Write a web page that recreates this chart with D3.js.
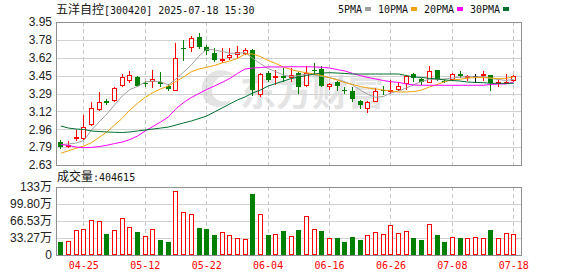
<!DOCTYPE html>
<html>
<head>
<meta charset="utf-8">
<script src="https://cdn.jsdelivr.net/npm/d3@7"></script>
<style>
  body { margin: 0; background: #fff; }
</style>
</head>
<body>
<div id="chart"></div>
<script>
// trading days shown
const dates = ["04-22","04-23","04-24","04-25","04-28","04-29","04-30","05-06","05-07","05-08",
  "05-09","05-12","05-13","05-14","05-15","05-16","05-19","05-20","05-21","05-22",
  "05-23","05-26","05-27","05-28","05-29","05-30","06-03","06-04","06-05","06-06",
  "06-09","06-10","06-11","06-12","06-13","06-16","06-17","06-18","06-19","06-20",
  "06-23","06-24","06-25","06-26","06-27","06-30","07-01","07-02","07-03","07-04",
  "07-07","07-08","07-09","07-10","07-11","07-14","07-15","07-16","07-17","07-18"];

const opens = [2.84,2.80,2.867,2.87,3.00,3.14,3.22,3.22,3.36,3.41,
  3.44,3.39,3.40,3.40,3.36,3.31,3.71,3.71,3.81,3.72,
  3.66,3.59,3.615,3.648,3.652,3.69,3.28,3.48,3.43,3.45,
  3.43,3.48,3.36,3.505,3.52,3.35,3.40,3.325,3.316,3.22,
  3.15,3.21,3.325,3.31,3.32,3.375,3.47,3.42,3.39,3.505,
  3.41,3.415,3.47,3.44,3.455,3.455,3.46,3.39,3.39,3.41];
const highs = [2.86,2.85,2.95,3.09,3.21,3.30,3.24,3.35,3.47,3.50,
  3.45,3.41,3.51,3.49,3.375,3.76,3.78,3.82,3.85,3.74,
  3.71,3.71,3.71,3.73,3.71,3.70,3.48,3.50,3.51,3.53,
  3.53,3.49,3.54,3.57,3.54,3.385,3.405,3.35,3.35,3.23,
  3.22,3.34,3.36,3.415,3.40,3.46,3.48,3.43,3.545,3.505,
  3.42,3.475,3.50,3.465,3.47,3.50,3.46,3.42,3.47,3.46];
const lows = [2.78,2.79,2.85,2.86,2.99,3.13,3.18,3.21,3.35,3.39,
  3.35,3.35,3.34,3.35,3.31,3.31,3.59,3.67,3.70,3.645,
  3.58,3.57,3.60,3.62,3.645,3.27,3.26,3.40,3.37,3.40,
  3.40,3.29,3.35,3.46,3.35,3.32,3.31,3.29,3.21,3.15,
  3.11,3.21,3.28,3.29,3.31,3.32,3.40,3.37,3.385,3.41,
  3.385,3.41,3.43,3.405,3.385,3.405,3.315,3.35,3.375,3.40];
const closes = [2.80,2.81,2.886,2.98,3.16,3.21,3.20,3.34,3.44,3.46,
  3.36,3.38,3.42,3.38,3.33,3.62,3.70,3.80,3.72,3.68,
  3.60,3.61,3.65,3.67,3.69,3.32,3.47,3.415,3.45,3.43,
  3.46,3.35,3.48,3.50,3.36,3.38,3.36,3.32,3.24,3.18,
  3.21,3.31,3.32,3.325,3.36,3.45,3.43,3.40,3.50,3.42,
  3.405,3.47,3.455,3.455,3.455,3.47,3.385,3.40,3.40,3.45];

// volume, in 万 shares
const volumes = [25.9,27.3,48.7,50.6,68.2,66.2,40.9,48.7,72.1,54.5,
  44.8,37.0,50.6,29.2,25.3,124.7,83.2,79.9,53.2,50.6,
  39.0,44.8,39.0,33.1,31.2,119.4,79.9,39.0,40.9,46.8,
  37.0,48.7,76.0,50.6,46.8,33.1,33.1,25.3,35.1,29.2,
  39.0,44.8,40.9,58.4,42.9,46.8,33.1,29.2,60.4,39.0,
  25.3,35.1,33.1,33.1,35.1,33.1,48.7,33.1,42.9,40.4615];

// moving averages as shown
const ma5 = [2.819,2.824,2.833,2.856,2.953,3.027,3.101,3.184,3.267,3.327,
  3.355,3.396,3.405,3.399,3.368,3.424,3.488,3.553,3.636,3.698,
  3.692,3.678,3.661,3.661,3.667,3.615,3.565,3.521,3.491,3.461,
  3.447,3.456,3.47,3.461,3.447,3.436,3.419,3.399,3.368,3.322,
  3.281,3.255,3.262,3.295,3.313,3.341,3.373,3.401,3.421,3.421,
  3.424,3.433,3.442,3.442,3.445,3.445,3.43,3.419,3.41,3.421];
const ma10 = [2.738,2.762,2.784,2.805,2.836,2.886,2.935,2.999,3.061,3.138,
  3.2,3.255,3.298,3.332,3.359,3.401,3.442,3.491,3.516,3.532,
  3.548,3.572,3.59,3.613,3.655,3.655,3.630,3.595,3.567,3.535,
  3.511,3.493,3.482,3.47,3.456,3.436,3.415,3.39,3.373,3.355,
  3.341,3.332,3.322,3.313,3.304,3.304,3.308,3.322,3.35,3.373,
  3.399,3.415,3.421,3.433,3.436,3.438,3.433,3.427,3.43,3.445];
const ma20 = [2.819,2.81,2.796,2.79,2.792,2.80,2.812,2.828,2.842,2.865,
  2.898,2.944,2.985,3.027,3.073,3.149,3.207,3.253,3.29,3.327,
  3.359,3.392,3.428,3.475,3.516,3.525,3.53,3.535,3.535,3.535,
  3.537,3.537,3.537,3.535,3.532,3.525,3.511,3.498,3.475,3.456,
  3.438,3.424,3.41,3.399,3.392,3.378,3.368,3.366,3.366,3.366,
  3.366,3.366,3.366,3.366,3.366,3.366,3.373,3.378,3.378,3.396];
const ma30 = [2.99,2.971,2.962,2.958,2.944,2.939,2.935,2.932,2.93,2.935,
  2.944,2.953,2.962,2.971,2.98,2.999,3.018,3.036,3.059,3.082,
  3.119,3.156,3.193,3.23,3.258,3.295,3.322,3.359,3.382,3.405,
  3.428,3.442,3.456,3.47,3.479,3.482,3.479,3.475,3.47,3.47,
  3.47,3.47,3.47,3.47,3.47,3.456,3.442,3.438,3.43,3.424,
  3.415,3.41,3.405,3.396,3.392,3.39,3.384,3.384,3.384,3.384];

const priceTicks = [2.63, 2.795, 2.96, 3.125, 3.29, 3.455, 3.62, 3.785, 3.95];
const priceTickLabels = ["2.63","2.79","2.96","3.12","3.29","3.45","3.62","3.78","3.95"];
const volTicks = [0, 33.27, 66.53, 99.80, 133.07];
const volTickLabels = ["0","33.27万","66.53万","99.80万","133万"];
const dateTicks = ["04-25","05-12","05-22","06-04","06-16","06-26","07-08","07-18"];

const maNames = ["5PMA","10PMA","20PMA","30PMA"];
const maColors = ["#a0a0a0","#f2a20c","#ff00ff","#00702f"];

const W = 578, H = 276;
const left = 56, right = 522;
const pTop = 22, pBot = 165, vTop = 187, vBot = 255;
const RED = "#ff0000", GREEN = "#008000";
const mono = "'DejaVu Sans Mono', monospace";
const cjk = "'Noto Sans CJK SC', sans-serif";

const svg = d3.select("#chart").append("svg")
    .attr("width", W)
    .attr("height", H)
    .style("display", "block");

const x = d3.scalePoint().domain(dates).range([60.3, 513.3]);
const y = d3.scaleLinear().domain([2.63, 3.95]).range([pBot, pTop]);
const yv = d3.scaleLinear().domain([0, 133.07]).range([vBot, vTop]);

// watermark
const wm = svg.append("g").attr("fill", "#e4e4e4");
wm.append("path")
    .attr("d", "M236,76 C222,64 200,72 202,92 C204,108 222,112 232,100 C222,104 212,100 212,90 C212,78 226,72 236,76 Z")
    .attr("fill", "#e4e4e4");
wm.append("text")
    .attr("x", 240).attr("y", 106)
    .style("font-family", cjk)
    .style("font-size", "36px")
    .style("font-weight", "bold")
    .text("东方财富");

// horizontal grid
svg.append("g")
    .selectAll("line.pg")
    .data(priceTicks)
    .enter().append("line")
    .attr("x1", left).attr("x2", right)
    .attr("y1", d => Math.round(y(d)) + 0.5)
    .attr("y2", d => Math.round(y(d)) + 0.5)
    .attr("stroke", "#d2d2d2");

svg.append("g")
    .selectAll("line.vg")
    .data(volTicks)
    .enter().append("line")
    .attr("x1", left).attr("x2", right)
    .attr("y1", d => Math.round(yv(d)) + 0.5)
    .attr("y2", d => Math.round(yv(d)) + 0.5)
    .attr("stroke", "#d2d2d2");

// vertical dashed lines
[[pTop, pBot], [vTop, vBot]].forEach(([t, b]) => {
  svg.append("g")
    .selectAll("line")
    .data(dateTicks)
    .enter().append("line")
    .attr("x1", d => Math.round(x(d)) + 0.5)
    .attr("x2", d => Math.round(x(d)) + 0.5)
    .attr("y1", t).attr("y2", b)
    .attr("stroke", "#c8c8c8")
    .attr("stroke-dasharray", "4,3");
});

// frames
svg.append("rect")
    .attr("x", left + 0.5).attr("y", pTop + 0.5)
    .attr("width", right - left - 1).attr("height", pBot - pTop)
    .attr("fill", "none").attr("stroke", "#909090");
svg.append("rect")
    .attr("x", left + 0.5).attr("y", vTop + 0.5)
    .attr("width", right - left - 1).attr("height", vBot - vTop)
    .attr("fill", "none").attr("stroke", "#909090");

// axes labels
svg.append("g")
    .attr("transform", `translate(${left},0)`)
    .call(d3.axisLeft(y).tickValues(priceTicks).tickFormat((d, i) => priceTickLabels[i]).tickSize(0).tickPadding(4))
    .call(g => g.select(".domain").remove())
    .selectAll("text")
    .style("font-family", "'Liberation Sans', Arial, " + cjk)
    .style("font-size", "12px")
    .style("fill", "#222");

svg.append("g")
    .attr("transform", `translate(${left},0)`)
    .call(d3.axisLeft(yv).tickValues(volTicks).tickFormat((d, i) => volTickLabels[i]).tickSize(0).tickPadding(4))
    .call(g => g.select(".domain").remove())
    .selectAll("text")
    .style("font-family", "'Liberation Sans', Arial, " + cjk)
    .style("font-size", "12px")
    .style("fill", "#222");

svg.append("g")
    .selectAll("text")
    .data(dateTicks)
    .enter().append("text")
    .attr("x", d => x(d) + 0.5)
    .attr("y", 269)
    .attr("text-anchor", "middle")
    .style("font-family", mono)
    .style("font-size", "10px")
    .style("fill", RED)
    .text(d => d);

// candles
const data = dates.map((d, i) => ({
  date: d, o: opens[i], h: highs[i], l: lows[i], c: closes[i], v: volumes[i],
  up: i === 0 ? closes[i] >= opens[i] : closes[i] >= closes[i - 1]
}));

const candles = svg.append("g");
data.forEach(d => {
  const cx = Math.round(x(d.date));
  const top = Math.round(y(Math.max(d.o, d.c)));
  const bot = Math.round(y(Math.min(d.o, d.c)));
  const yh = Math.round(y(d.h)), yl = Math.round(y(d.l));
  if (d.c > d.o) {
    candles.append("line").attr("x1", cx + 0.5).attr("x2", cx + 0.5)
      .attr("y1", yh).attr("y2", top).attr("stroke", RED);
    candles.append("line").attr("x1", cx + 0.5).attr("x2", cx + 0.5)
      .attr("y1", bot).attr("y2", yl).attr("stroke", RED);
    candles.append("rect")
      .attr("x", cx - 1.5).attr("y", top + 0.5)
      .attr("width", 4).attr("height", Math.max(1, bot - top - 1))
      .attr("fill", "#fff").attr("stroke", RED);
  } else if (d.c < d.o) {
    candles.append("line").attr("x1", cx + 0.5).attr("x2", cx + 0.5)
      .attr("y1", yh).attr("y2", yl).attr("stroke", GREEN);
    candles.append("rect")
      .attr("x", cx - 2).attr("y", top)
      .attr("width", 5).attr("height", Math.max(1, bot - top))
      .attr("fill", GREEN);
  } else {
    candles.append("line").attr("x1", cx + 0.5).attr("x2", cx + 0.5)
      .attr("y1", yh).attr("y2", yl).attr("stroke", "#000");
    candles.append("line").attr("x1", cx - 2).attr("x2", cx + 3)
      .attr("y1", top + 0.5).attr("y2", top + 0.5).attr("stroke", "#000");
  }
});

// moving average lines
[ma5, ma10, ma20, ma30].forEach((arr, k) => {
  svg.append("path")
    .datum(arr)
    .attr("fill", "none")
    .attr("stroke", maColors[k])
    .attr("stroke-width", 1)
    .attr("d", d3.line().x((d, i) => x(dates[i]) + 0.5).y(d => y(d)));
});

// volume bars
const vols = svg.append("g");
data.forEach(d => {
  const cx = Math.round(x(d.date));
  const t = Math.round(yv(d.v));
  if (d.up) {
    vols.append("rect")
      .attr("x", cx - 1.5).attr("y", t + 0.5)
      .attr("width", 4).attr("height", vBot - t - 1)
      .attr("fill", "#fff").attr("stroke", RED);
  } else {
    vols.append("rect")
      .attr("x", cx - 2).attr("y", t)
      .attr("width", 5).attr("height", vBot - t)
      .attr("fill", GREEN);
  }
});

// title
const title = svg.append("text").attr("x", left).attr("y", 14).style("fill", "#111");
title.append("tspan").style("font-family", cjk).style("font-size", "12px").text("五洋自控");
title.append("tspan").style("font-family", mono).style("font-size", "10px").text("[300420] 2025-07-18 15:30");

// volume caption
const vcap = svg.append("text").attr("x", left + 1).attr("y", 181).style("fill", "#111");
vcap.append("tspan").style("font-family", cjk).style("font-size", "12px").text("成交量");
vcap.append("tspan").style("font-family", mono).style("font-size", "10px").text(":" + Math.round(volumes[volumes.length - 1] * 10000));

// legend
let lx = 338;
maNames.forEach((name, k) => {
  svg.append("text")
    .attr("x", lx).attr("y", 12.5)
    .style("font-family", mono)
    .style("font-size", "10px")
    .style("fill", "#111")
    .text(name);
  const sx = lx + name.length * 6 + 3;
  svg.append("rect")
    .attr("x", sx).attr("y", 7)
    .attr("width", 6).attr("height", 4)
    .attr("fill", maColors[k]);
  lx = sx + 6 + 7;
});
</script>
</body>
</html>
